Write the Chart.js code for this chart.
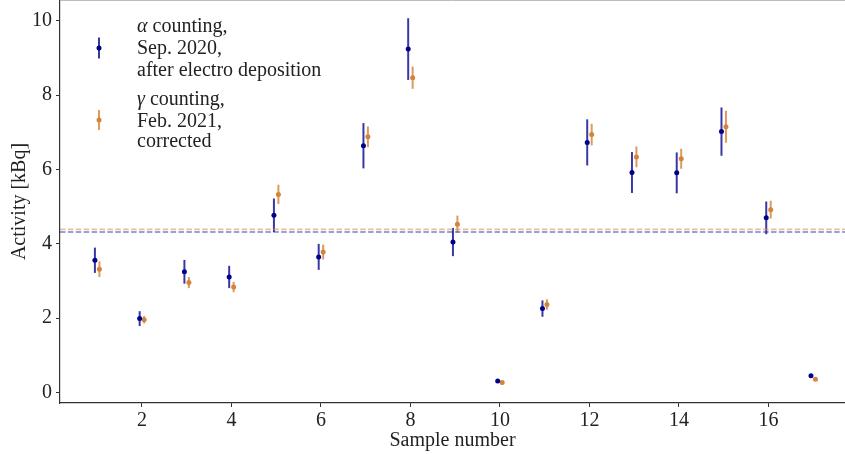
<!DOCTYPE html>
<html>
<head>
<meta charset="utf-8">
<script src="https://cdn.jsdelivr.net/npm/chart.js@4.4.1/dist/chart.umd.min.js"></script>
<style>
  html, body { margin: 0; padding: 0; background: #fff; }
  #wrap { width: 845px; height: 454px; position: relative; }
</style>
</head>
<body>
<div id="wrap"><canvas id="c"></canvas></div>
<script>
// ---- data ----
const samples    = [1, 2, 3, 4, 5, 6, 7, 8, 9, 10, 11, 12, 13, 14, 15, 16, 17];
const alphaVals  = [3.56, 1.99, 3.25, 3.11, 4.77, 3.65, 6.64, 9.24, 4.05, 0.31, 2.26, 6.73, 5.92, 5.91, 7.02, 4.70, 0.45];
const alphaErr   = [0.34, 0.20, 0.32, 0.30, 0.45, 0.35, 0.61, 0.83, 0.38, 0.02, 0.22, 0.62, 0.55, 0.55, 0.65, 0.44, 0.02];
const gammaVals  = [3.32, 1.96, 2.96, 2.84, 5.33, 3.78, 6.88, 8.47, 4.53, 0.27, 2.37, 6.94, 6.34, 6.29, 7.15, 4.92, 0.36];
const gammaErr   = [0.21, 0.10, 0.15, 0.14, 0.26, 0.20, 0.28, 0.30, 0.23, 0.05, 0.14, 0.29, 0.28, 0.27, 0.43, 0.24, 0.02];
const alphaMean  = 4.32;
const gammaMean  = 4.39;
const xTickVals  = [2, 4, 6, 8, 10, 12, 14, 16];
const yTickVals  = [0, 2, 4, 6, 8, 10];
const alphaLegend = ['counting,', 'Sep. 2020,', 'after electro deposition'];
const gammaLegend = ['counting,', 'Feb. 2021,', 'corrected'];

// ---- style ----
const X_MIN = 0.17, X_MAX = 17.71, Y_MIN = -0.28, Y_MAX = 10.56;
const SHIFT = 0.05;
const BLUE = '#00008b', BLUE_BAR = 'rgba(0,0,139,0.78)', BLUE_DASH = 'rgba(40,40,170,0.6)';
const ORANGE = '#d4843a', ORANGE_BAR = 'rgba(214,138,62,0.85)', ORANGE_DASH = 'rgba(214,150,90,0.6)';
const FONT = '"Liberation Serif", "Times New Roman", serif';
const TXT = '#222';

const alphaPts = samples.map((s, i) => ({ x: s - SHIFT, y: alphaVals[i], e: alphaErr[i] }));
const gammaPts = samples.map((s, i) => ({ x: s + SHIFT, y: gammaVals[i], e: gammaErr[i] }));

const errorBars = {
  id: 'errorBars',
  beforeDatasetsDraw(chart) {
    const { ctx, scales: { x, y } } = chart;
    ctx.save();
    [[alphaPts, BLUE_BAR], [gammaPts, ORANGE_BAR]].forEach(([pts, col]) => {
      ctx.strokeStyle = col;
      ctx.lineWidth = 2;
      pts.forEach(p => {
        const px = x.getPixelForValue(p.x);
        ctx.beginPath();
        ctx.moveTo(px, y.getPixelForValue(p.y - p.e));
        ctx.lineTo(px, y.getPixelForValue(p.y + p.e));
        ctx.stroke();
      });
    });
    ctx.restore();
  },
  afterDraw(chart) {
    const { ctx, chartArea } = chart;
    ctx.save();
    // top frame line
    ctx.strokeStyle = '#bbbbbb';
    ctx.lineWidth = 1;
    ctx.beginPath();
    ctx.moveTo(chartArea.left, 0.5);
    ctx.lineTo(chartArea.right, 0.5);
    ctx.stroke();
    // legend
    const drawEntry = (cx, cy, half, barCol, dotCol, greek, lines, baselines) => {
      ctx.strokeStyle = barCol;
      ctx.lineWidth = 2;
      ctx.beginPath();
      ctx.moveTo(cx, cy - half);
      ctx.lineTo(cx, cy + half);
      ctx.stroke();
      ctx.fillStyle = dotCol;
      ctx.beginPath();
      ctx.arc(cx, cy, 2.5, 0, Math.PI * 2);
      ctx.fill();
      ctx.fillStyle = TXT;
      ctx.textBaseline = 'alphabetic';
      ctx.textAlign = 'left';
      const tx = 137;
      ctx.font = 'italic 20px ' + FONT;
      ctx.fillText(greek, tx, baselines[0]);
      const gw = ctx.measureText(greek).width;
      ctx.font = '20px ' + FONT;
      ctx.fillText(' ' + lines[0], tx + gw, baselines[0]);
      ctx.fillText(lines[1], tx, baselines[1]);
      ctx.fillText(lines[2], tx, baselines[2]);
    };
    drawEntry(99, 48, 10.5, BLUE_BAR, BLUE, 'α', alphaLegend, [32, 54, 76]);
    drawEntry(99, 120, 10, ORANGE_BAR, ORANGE, 'γ', gammaLegend, [105, 127, 147]);
    ctx.restore();
  }
};

new Chart(document.getElementById('c'), {
  type: 'scatter',
  data: {
    datasets: [
      {
        type: 'line', data: [{ x: X_MIN, y: gammaMean }, { x: X_MAX, y: gammaMean }],
        borderColor: ORANGE_DASH, borderWidth: 1.6, borderDash: [5.5, 2.4],
        pointRadius: 0, fill: false
      },
      {
        type: 'line', data: [{ x: X_MIN, y: alphaMean }, { x: X_MAX, y: alphaMean }],
        borderColor: BLUE_DASH, borderWidth: 1.6, borderDash: [5.5, 2.4],
        pointRadius: 0, fill: false
      },
      {
        data: alphaPts, backgroundColor: BLUE, borderColor: BLUE,
        pointRadius: 2.5, pointBorderWidth: 0
      },
      {
        data: gammaPts, backgroundColor: ORANGE, borderColor: ORANGE,
        pointRadius: 2.5, pointBorderWidth: 0
      }
    ]
  },
  options: {
    responsive: true,
    maintainAspectRatio: false,
    animation: false,
    layout: { padding: 0, autoPadding: false },
    plugins: { legend: { display: false }, tooltip: { enabled: false } },
    scales: {
      x: {
        type: 'linear', min: X_MIN, max: X_MAX,
        afterBuildTicks: s => { s.ticks = xTickVals.map(v => ({ value: v })); },
        afterFit: s => { s.height = 51; s.paddingLeft = 0; s.paddingRight = 0; },
        grid: { drawOnChartArea: false, drawTicks: true, tickLength: 4, color: '#333' },
        border: { display: true, color: '#333', width: 1.2 },
        ticks: { color: TXT, font: { family: FONT, size: 20 }, padding: 2, maxRotation: 0 },
        title: { display: true, text: 'Sample number', color: TXT, font: { family: FONT, size: 20 }, padding: { top: 0, bottom: 1 } }
      },
      y: {
        type: 'linear', min: Y_MIN, max: Y_MAX,
        afterBuildTicks: s => { s.ticks = yTickVals.map(v => ({ value: v })); },
        afterFit: s => { s.width = 60; s.paddingTop = 0; s.paddingBottom = 0; },
        grid: { drawOnChartArea: false, drawTicks: true, tickLength: 4, color: '#333' },
        border: { display: true, color: '#333', width: 1.2 },
        ticks: { color: TXT, font: { family: FONT, size: 20 }, padding: 4 },
        title: { display: true, text: 'Activity [kBq]', color: TXT, font: { family: FONT, size: 20 }, padding: { top: 8, bottom: 0 } }
      }
    }
  },
  plugins: [errorBars]
});
</script>
</body>
</html>
